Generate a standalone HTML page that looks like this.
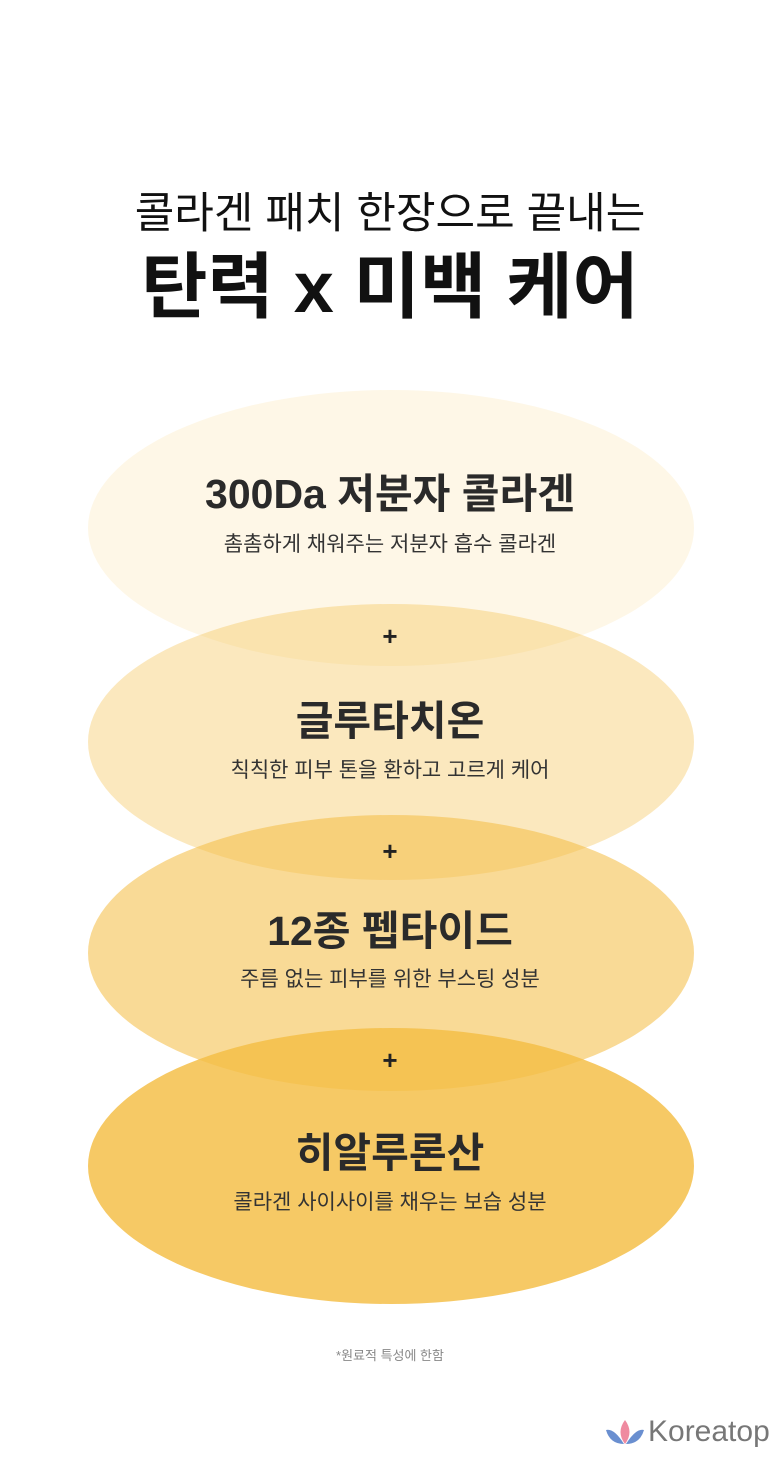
<!DOCTYPE html>
<html><head><meta charset="utf-8"><style>
body{margin:0;width:780px;height:1458px;background:#fff;position:relative;overflow:hidden;font-family:"Liberation Sans","Noto Sans CJK KR",sans-serif;color:#222}
.t{position:absolute;left:0;width:780px;text-align:center;white-space:nowrap;line-height:1}
.h{font-size:41px;font-weight:bold;color:#2a2a2a}
.s{font-size:21px;color:#333}
.p{font-size:26px;font-weight:bold}
.e{position:absolute;left:88px;width:606px;height:276px;border-radius:50%;background:rgb(244,190,70)}
</style></head><body>
<div class="e" style="top:390px;opacity:.13"></div>
<div class="e" style="top:604px;opacity:.35"></div>
<div class="e" style="top:815px;opacity:.57"></div>
<div class="e" style="top:1028px;opacity:.83"></div>
<div class="t" style="top:193px;font-size:43px;color:#111">콜라겐 패치 한장으로 끝내는</div>
<div class="t" style="top:252px;font-size:72px;font-weight:bold;color:#111">탄력 x 미백 케어</div>
<div class="t h" style="top:474px">300Da 저분자 콜라겐</div>
<div class="t s" style="top:534px">촘촘하게 채워주는 저분자 흡수 콜라겐</div>
<div class="t p" style="top:623px">+</div>
<div class="t h" style="top:701px">글루타치온</div>
<div class="t s" style="top:760px">칙칙한 피부 톤을 환하고 고르게 케어</div>
<div class="t p" style="top:838px">+</div>
<div class="t h" style="top:911px">12종 펩타이드</div>
<div class="t s" style="top:969px">주름 없는 피부를 위한 부스팅 성분</div>
<div class="t p" style="top:1047px">+</div>
<div class="t h" style="top:1133px">히알루론산</div>
<div class="t s" style="top:1192px">콜라겐 사이사이를 채우는 보습 성분</div>
<div class="t" style="top:1349px;font-size:13px;color:#888">*원료적 특성에 한함</div>
<svg style="position:absolute;left:604px;top:1418px" width="42" height="30" viewBox="0 0 42 30">
<path d="M2 12 Q10 10 20 26 Q6 26 2 12Z" fill="#6a8fd0"/>
<path d="M40 12 Q32 10 22 26 Q36 26 40 12Z" fill="#6a8fd0"/>
<path d="M21 2 Q12 14 21 26 Q30 14 21 2Z" fill="#ef8aa0"/>
</svg>
<div style="position:absolute;left:648px;top:1415px;font-size:30px;color:#777">Koreatop</div>
</body></html>
